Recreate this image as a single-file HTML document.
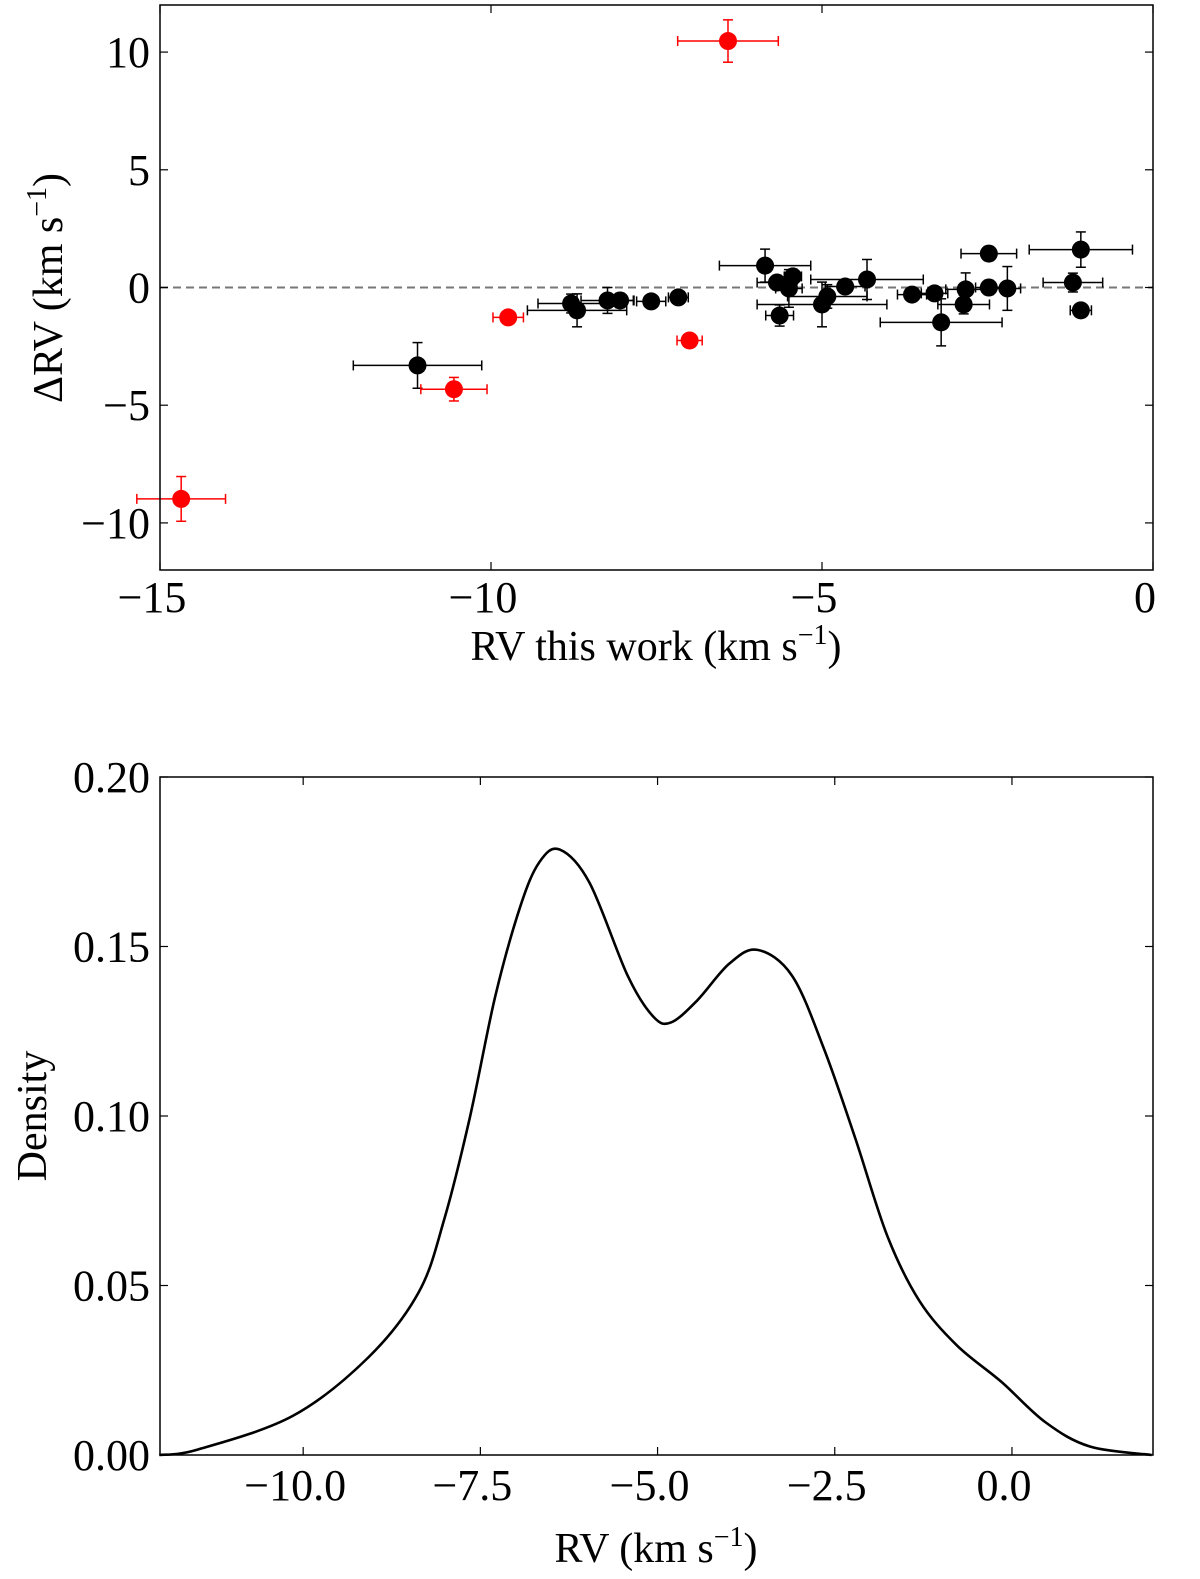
<!DOCTYPE html>
<html><head><meta charset="utf-8"><style>
html,body{margin:0;padding:0;background:#fff;}
svg{display:block;font-family:"Liberation Serif",serif;}
</style></head><body>
<svg id="fig" width="1200" height="1579" viewBox="0 0 1200 1579">
<g id="topPanel"></g>
<g id="botPanel"></g>
</svg>
<script>
// ---- Top panel data ----
const blackX = [-11.11,-8.79,-8.70,-8.24,-8.05,-7.58,-7.17,-5.86,-5.68,-5.44,-5.50,-5.64,-4.65,-4.32,-4.92,-5.00,-3.64,-3.30,-3.20,-2.83,-2.86,-2.48,-2.20,-2.48,-1.09,-1.21,-1.09];
const blackY = [-3.31,-0.68,-0.97,-0.55,-0.55,-0.59,-0.42,0.93,0.21,0.47,-0.04,-1.19,0.04,0.34,-0.38,-0.72,-0.30,-0.25,-1.48,-0.08,-0.72,0.00,-0.04,1.44,1.61,0.21,-0.97];
const blackXErr = [0.97,0.5,0.75,0.4,0.2,0.22,0.15,0.69,0.3,0.13,0.2,0.21,0.3,0.85,0.6,0.98,0.22,0.2,0.92,0.3,0.39,0.2,0.2,0.42,0.78,0.45,0.16];
const blackYErr = [0.97,0.4,0.7,0.55,0.3,0.2,0.2,0.7,0.3,0.3,0.8,0.45,0.2,0.85,0.5,0.95,0.2,0.2,1.0,0.7,0.4,0.3,0.93,0.3,0.75,0.4,0.2];
const redX = [-9.74,-10.56,-7.00,-14.68,-6.42];
const redY = [-1.27,-4.32,-2.25,-8.98,10.47];
const redXErr = [0.23,0.5,0.19,0.67,0.76];
const redYErr = [0.1,0.5,0.1,0.95,0.9];
const topXTicks = [-15,-10,-5,0];
const topXTickLabels = ["\u221215","\u221210","\u22125","0"];
const topYTicks = [-10,-5,0,5,10];
const topYTickLabels = ["\u221210","\u22125","0","5","10"];
// ---- Bottom panel data ----
const kdeX = [-12.03,-11.49,-10.15,-9.08,-8.37,-8.01,-7.65,-7.29,-6.94,-6.67,-6.38,-5.96,-5.42,-5.06,-4.81,-4.44,-3.99,-3.59,-3.10,-2.65,-2.21,-1.76,-1.31,-0.78,-0.15,0.47,1.10,1.97];
const kdeY = [0.0,0.0016,0.0115,0.0288,0.048,0.0695,0.0994,0.1353,0.1616,0.1748,0.1786,0.1688,0.1413,0.1293,0.1276,0.1341,0.1449,0.149,0.1413,0.1197,0.0934,0.0647,0.0456,0.0324,0.0216,0.0097,0.0025,0.0];
const botXTicks = [-10,-7.5,-5,-2.5,0];
const botXTickLabels = ["\u221210.0","\u22127.5","\u22125.0","\u22122.5","0.0"];
const botYTicks = [0,0.05,0.1,0.15,0.2];
const botYTickLabels = ["0.00","0.05","0.10","0.15","0.20"];

const NS="http://www.w3.org/2000/svg";
function mk(parent,tag,attrs,text){const e=document.createElementNS(NS,tag);for(const k in attrs)e.setAttribute(k,attrs[k]);if(text!==undefined)e.textContent=text;parent.appendChild(e);return e;}

// Top axes
const T={l:160,r:1153,t:5,b:570,x0:-15,x1:0,y0:-12,y1:12};
const tx=v=>T.l+(v-T.x0)/(T.x1-T.x0)*(T.r-T.l);
const ty=v=>T.b-(v-T.y0)/(T.y1-T.y0)*(T.b-T.t);
const topG=document.getElementById('topPanel');
let zl=mk(topG,'line',{x1:T.l,x2:T.r,y1:ty(0),y2:ty(0),stroke:'#777','stroke-width':2,'stroke-dasharray':'8,5'});


function drawPts(xs,ys,xe,ye,col,name){
  for(let i=0;i<xs.length;i++){
    const g=mk(topG,'g',{});
    
    
    const cx=tx(xs[i]),cy=ty(ys[i]);
    const xa=tx(xs[i]-xe[i]),xb=tx(xs[i]+xe[i]),ya=ty(ys[i]+ye[i]),yb=ty(ys[i]-ye[i]);
    const sa={stroke:col,'stroke-width':1.5};
    mk(g,'line',Object.assign({x1:xa,x2:xb,y1:cy,y2:cy},sa));
    mk(g,'line',Object.assign({x1:cx,x2:cx,y1:ya,y2:yb},sa));
    mk(g,'line',Object.assign({x1:xa,x2:xa,y1:cy-5,y2:cy+5},sa));
    mk(g,'line',Object.assign({x1:xb,x2:xb,y1:cy-5,y2:cy+5},sa));
    mk(g,'line',Object.assign({x1:cx-5,x2:cx+5,y1:ya,y2:ya},sa));
    mk(g,'line',Object.assign({x1:cx-5,x2:cx+5,y1:yb,y2:yb},sa));
    mk(g,'circle',{cx:cx,cy:cy,r:9,fill:col});
  }
}
drawPts(blackX,blackY,blackXErr,blackYErr,'#000','black');
drawPts(redX,redY,redXErr,redYErr,'#f00','red');
let fr=mk(topG,'rect',{x:T.l,y:T.t,width:T.r-T.l,height:T.b-T.t,fill:'none',stroke:'#000','stroke-width':1.5});


topXTicks.forEach((v,i)=>{const x=tx(v);
  mk(topG,'line',{x1:x,x2:x,y1:T.b,y2:T.b-8,stroke:'#000','stroke-width':1.2});
  mk(topG,'line',{x1:x,x2:x,y1:T.t,y2:T.t+8,stroke:'#000','stroke-width':1.2});
  const t=mk(topG,'text',{x:x-8,y:612,'font-size':44,'text-anchor':'middle'},topXTickLabels[i]);
  
  
});
topYTicks.forEach((v,i)=>{const y=ty(v);
  mk(topG,'line',{x1:T.l,x2:T.l+8,y1:y,y2:y,stroke:'#000','stroke-width':1.2});
  mk(topG,'line',{x1:T.r,x2:T.r-8,y1:y,y2:y,stroke:'#000','stroke-width':1.2});
  const t=mk(topG,'text',{x:150,y:y+15,'font-size':44,'text-anchor':'end'},topYTickLabels[i]);
  
  
});
let xl=mk(topG,'text',{x:656,y:660,'font-size':42,'text-anchor':'middle'});


xl.innerHTML='RV this work (km s<tspan dy="-16" font-size="28">\u22121</tspan><tspan dy="16">)</tspan>';
let yl=mk(topG,'text',{x:0,y:0,'font-size':42,'text-anchor':'middle',transform:'translate(62,288) rotate(-90)'});


yl.innerHTML='\u0394RV (km s<tspan dy="-16" font-size="28">\u22121</tspan><tspan dy="16">)</tspan>';

// Bottom axes
const B={l:160,r:1153,t:777,b:1455,x0:-12.02,x1:1.99,y0:0,y1:0.2};
const bx=v=>B.l+(v-B.x0)/(B.x1-B.x0)*(B.r-B.l);
const by=v=>B.b-(v-B.y0)/(B.y1-B.y0)*(B.b-B.t);
const botG=document.getElementById('botPanel');
const P=kdeX.map((v,i)=>[bx(v),by(kdeY[i])]);
let d='M'+P[0][0]+','+P[0][1];
for(let i=0;i<P.length-1;i++){
  const p0=P[Math.max(0,i-1)],p1=P[i],p2=P[i+1],p3=P[Math.min(P.length-1,i+2)];
  const c1=[p1[0]+(p2[0]-p0[0])/6,p1[1]+(p2[1]-p0[1])/6];
  const c2=[p2[0]-(p3[0]-p1[0])/6,p2[1]-(p3[1]-p1[1])/6];
  d+=' C'+c1[0]+','+c1[1]+' '+c2[0]+','+c2[1]+' '+p2[0]+','+p2[1];
}
let kp=mk(botG,'path',{d:d,fill:'none',stroke:'#000','stroke-width':2.6});


let fr2=mk(botG,'rect',{x:B.l,y:B.t,width:B.r-B.l,height:B.b-B.t,fill:'none',stroke:'#000','stroke-width':1.5});


botXTicks.forEach((v,i)=>{const x=bx(v);
  mk(botG,'line',{x1:x,x2:x,y1:B.b,y2:B.b-8,stroke:'#000','stroke-width':1.2});
  mk(botG,'line',{x1:x,x2:x,y1:B.t,y2:B.t+8,stroke:'#000','stroke-width':1.2});
  const t=mk(botG,'text',{x:x-8,y:1500,'font-size':44,'text-anchor':'middle'},botXTickLabels[i]);
  
  
});
botYTicks.forEach((v,i)=>{const y=by(v);
  mk(botG,'line',{x1:B.l,x2:B.l+8,y1:y,y2:y,stroke:'#000','stroke-width':1.2});
  mk(botG,'line',{x1:B.r,x2:B.r-8,y1:y,y2:y,stroke:'#000','stroke-width':1.2});
  const t=mk(botG,'text',{x:150,y:y+15,'font-size':44,'text-anchor':'end'},botYTickLabels[i]);
  
  
});
let xl2=mk(botG,'text',{x:656,y:1562,'font-size':42,'text-anchor':'middle'});


xl2.innerHTML='RV (km s<tspan dy="-16" font-size="28">\u22121</tspan><tspan dy="16">)</tspan>';
let yl2=mk(botG,'text',{x:0,y:0,'font-size':42,'text-anchor':'middle',transform:'translate(46,1116) rotate(-90)'},'Density');


</script>
</body></html>
